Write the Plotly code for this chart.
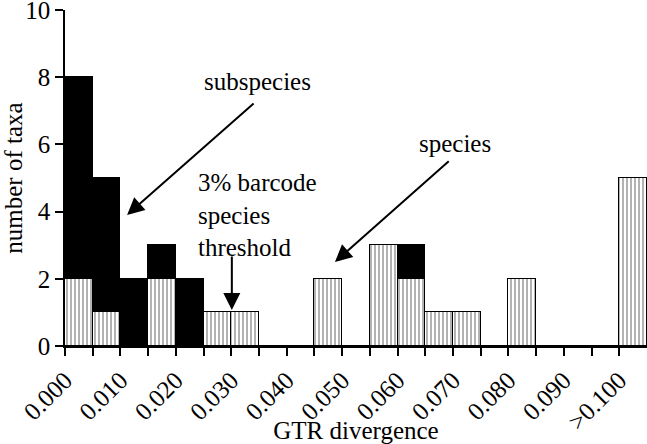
import plotly.graph_objects as go

# bin lower edges (GTR divergence), last bin is ">0.100"
bin_edges = [0.000, 0.005, 0.010, 0.015, 0.020, 0.025, 0.030, 0.035, 0.040, 0.045,
             0.050, 0.055, 0.060, 0.065, 0.070, 0.075, 0.080, 0.085, 0.090, 0.095, 0.100]
species = [2, 1, 0, 2, 0, 1, 1, 0, 0, 2, 0, 3, 2, 1, 1, 0, 2, 0, 0, 0, 5]
subspecies = [6, 4, 2, 1, 2, 0, 0, 0, 0, 0, 0, 0, 1, 0, 0, 0, 0, 0, 0, 0, 0]
tick_vals = [0.000, 0.005, 0.010, 0.015, 0.020, 0.025, 0.030, 0.035, 0.040, 0.045,
             0.050, 0.055, 0.060, 0.065, 0.070, 0.075, 0.080, 0.085, 0.090, 0.095, 0.100]
tick_text = ["0.000", "", "0.010", "", "0.020", "", "0.030", "", "0.040", "",
             "0.050", "", "0.060", "", "0.070", "", "0.080", "", "0.090", "", ">0.100"]
y_ticks = [0, 2, 4, 6, 8, 10]
bin_width = 0.005

FONT = "'Liberation Serif', 'Times New Roman', Times, serif"
FS = 25
fig = go.Figure()
fig.add_trace(go.Bar(
    x=bin_edges, y=species, width=bin_width, offset=0, name="species",
    marker=dict(color="white", line=dict(color="black", width=1),
                pattern=dict(shape="|", size=4, solidity=0.3,
                             fgcolor="black", bgcolor="white")),
))
fig.add_trace(go.Bar(
    x=bin_edges, y=subspecies, width=bin_width, offset=0, name="subspecies",
    marker=dict(color="black", line=dict(color="black", width=1)),
))

fig.update_layout(
    barmode="stack", bargap=0, showlegend=False,
    width=647, height=444,
    margin=dict(l=65, r=0, t=10, b=98),
    plot_bgcolor="white", paper_bgcolor="white",
    font=dict(family=FONT, size=FS, color="black"),
)
fig.update_xaxes(
    range=[0, 0.105], tickvals=tick_vals, ticktext=tick_text, tickangle=-45,
    ticks="outside", ticklen=8, tickwidth=1.5, tickcolor="black",
    showline=True, linecolor="black", linewidth=1.5, showgrid=False, zeroline=False,
    tickfont=dict(family=FONT, size=FS), ticklabeloverflow="allow",
    title=dict(text="GTR divergence", font=dict(family=FONT, size=FS), standoff=6),
    automargin=False,
)
fig.update_yaxes(
    range=[0, 10], tickvals=y_ticks,
    ticks="outside", ticklen=8, tickwidth=1.5, tickcolor="black",
    showline=True, linecolor="black", linewidth=1.5, showgrid=False, zeroline=False,
    tickfont=dict(family=FONT, size=FS), ticklabeloverflow="allow",
    title=dict(text="number of taxa", font=dict(family=FONT, size=FS), standoff=8),
    automargin=False,
)

arrow = dict(showarrow=True, arrowhead=2, arrowsize=1.7, arrowwidth=2, arrowcolor="black",
             xref="x", yref="y", axref="x", ayref="y", text="")
fig.add_annotation(x=0.0112, y=3.9, ax=0.0343, ay=7.26, **arrow)
fig.add_annotation(x=0.0301, y=1.07, ax=0.0301, ay=2.71, **arrow)
fig.add_annotation(x=0.0487, y=2.5, ax=0.0695, ay=5.54, **arrow)

tfont = dict(family=FONT, size=FS)
fig.add_annotation(x=0.0348, y=7.86, text="subspecies", showarrow=False,
                   xref="x", yref="y", font=tfont)
fig.add_annotation(x=0.0236, y=3.9, text="3% barcode<br>species<br>threshold",
                   showarrow=False, xref="x", yref="y", xanchor="left", align="left",
                   font=tfont)
fig.add_annotation(x=0.0704, y=6.04, text="species", showarrow=False,
                   xref="x", yref="y", font=tfont)

fig.write_html(
    "out.html",
    config={"displayModeBar": False},
    post_script="document.body.style.margin='0';document.body.style.overflow='hidden';",
)
